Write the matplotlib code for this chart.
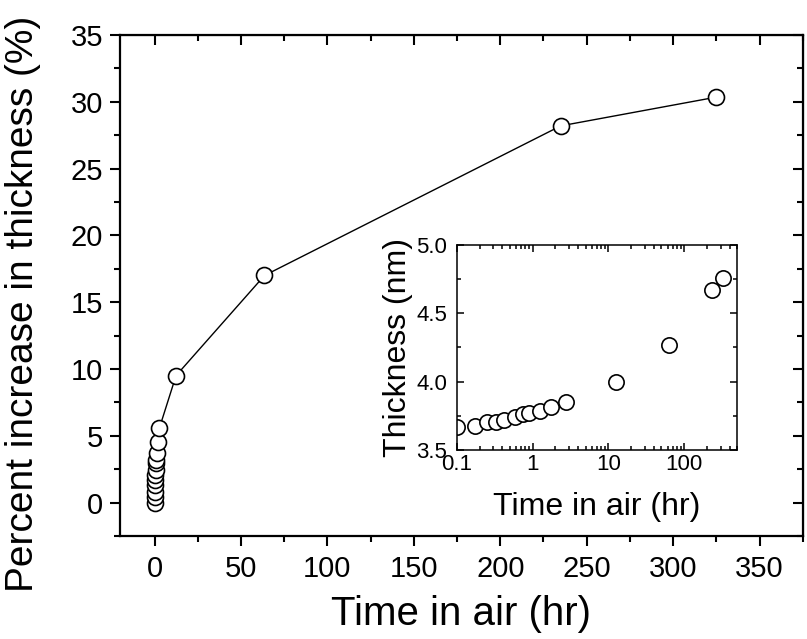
import numpy as np
import matplotlib
matplotlib.use("Agg")
import matplotlib.pyplot as plt
from matplotlib.ticker import MultipleLocator, FixedLocator, LogLocator, FuncFormatter, NullFormatter

plt.rcParams['font.family'] = ['Liberation Sans', 'DejaVu Sans']

# main panel: percent increase vs time
time_hr = [0, 0.1, 0.17, 0.25, 0.33, 0.42, 0.59, 0.75, 0.9, 1.24, 1.76, 2.75,
           12.4, 63.6, 235, 325]
pct_increase = [0.0, 0.45, 0.83, 1.33, 1.70, 2.07, 2.45, 3.0, 3.2, 3.70, 4.57, 5.56,
                9.5, 17.0, 28.2, 30.35]

# inset: absolute thickness vs time (log x)
inset_time = [0.1, 0.174, 0.25, 0.334, 0.42, 0.586, 0.747, 0.895, 1.24, 1.76, 2.75,
              12.5, 63.5, 230, 325]
inset_thick = [3.67, 3.678, 3.707, 3.707, 3.72, 3.744, 3.763, 3.768, 3.788, 3.817, 3.854,
               3.995, 4.266, 4.671, 4.756]

fig = plt.figure(figsize=(8.07, 6.39), dpi=100)
ax = fig.add_axes([0.1487, 0.1612, 0.846, 0.784])

ax.plot(time_hr, pct_increase, color='black', lw=1.0, marker='o', ms=11.5,
        mfc='white', mec='black', mew=1.2, zorder=3)
ax.set_xlim(-20, 375)
ax.set_ylim(-2.5, 35)
ax.xaxis.set_major_locator(MultipleLocator(50))
ax.xaxis.set_minor_locator(MultipleLocator(25))
ax.yaxis.set_major_locator(MultipleLocator(5))
ax.yaxis.set_minor_locator(MultipleLocator(2.5))
ax.tick_params(which='both', direction='out', width=1.5, labelsize=21, pad=5)
ax.tick_params(which='major', length=7)
ax.tick_params(which='minor', length=4)
ax.tick_params(axis='x', pad=7)
for sp in ax.spines.values():
    sp.set_linewidth(1.6)
ax.set_xlabel("Time in air (hr)", fontsize=29, labelpad=8)
ax.set_ylabel("Percent increase in thickness (%)", fontsize=28)
ax.yaxis.set_label_coords(-0.115, 0.463)

# mirrored ticks on top/right pointing inward
top = ax.secondary_xaxis('top')
top.xaxis.set_major_locator(MultipleLocator(50))
top.xaxis.set_minor_locator(MultipleLocator(25))
top.tick_params(which='both', direction='in', width=1.5, labeltop=False)
top.tick_params(which='major', length=7)
top.tick_params(which='minor', length=4)
right = ax.secondary_yaxis('right')
right.yaxis.set_major_locator(MultipleLocator(5))
right.yaxis.set_minor_locator(MultipleLocator(2.5))
right.tick_params(which='both', direction='in', width=1.5, labelright=False)
right.tick_params(which='major', length=7)
right.tick_params(which='minor', length=4)

# inset
ins = fig.add_axes([0.566, 0.2958, 0.3477, 0.3208])
ins.plot(inset_time, inset_thick, ls='none', marker='o', ms=11, mfc='white',
         mec='black', mew=1.2, clip_on=True)
ins.set_xscale('log')
ins.set_xlim(0.1, 500)
ins.set_ylim(3.5, 5.0)
ins.xaxis.set_major_locator(FixedLocator([0.1, 1, 10, 100]))
ins.xaxis.set_major_formatter(FuncFormatter(lambda v, p: '%g' % v))
ins.xaxis.set_minor_locator(LogLocator(base=10, subs=np.arange(2, 10)))
ins.xaxis.set_minor_formatter(NullFormatter())
ins.yaxis.set_major_locator(MultipleLocator(0.5))
ins.yaxis.set_minor_locator(MultipleLocator(0.25))
ins.yaxis.set_major_formatter(FuncFormatter(lambda v, p: '%.1f' % v))
ins.tick_params(which='both', direction='in', width=1.1, labelsize=16, pad=3,
                top=True, right=True)
ins.tick_params(axis='y', pad=7)
ins.tick_params(which='major', length=5)
ins.tick_params(which='minor', length=3)
for sp in ins.spines.values():
    sp.set_linewidth(1.1)
ins.set_xlabel("Time in air (hr)", fontsize=23, labelpad=12)
ins.set_ylabel("Thickness (nm)", fontsize=23, labelpad=2)

fig.savefig("out.png", dpi=100)
